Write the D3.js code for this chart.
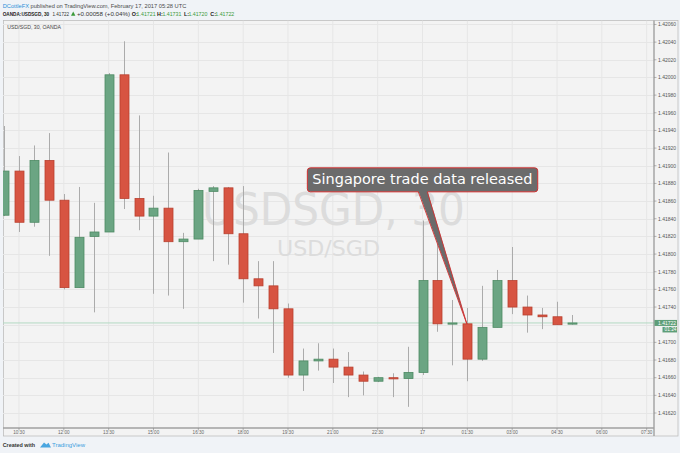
<!DOCTYPE html>
<html>
<head>
<meta charset="utf-8">
<title>USDSGD, 30</title>
<script src="https://cdnjs.cloudflare.com/ajax/libs/d3/7.8.5/d3.min.js"></script>
<style>
  body { margin: 0; background: #f0f3f7; }
  svg { display: block; font-family: "Liberation Sans", Arial, sans-serif; }
</style>
</head>
<body>
<svg width="680" height="453"></svg>
<script>
// 30 minute candles, 16 Feb 10:00 -> 17 Feb 05:00
var times = ["10:00","10:30","11:00","11:30","12:00","12:30","13:00","13:30","14:00","14:30",
             "15:00","15:30","16:00","16:30","17:00","17:30","18:00","18:30","19:00","19:30",
             "20:00","20:30","21:00","21:30","22:00","22:30","23:00","23:30","00:00","00:30",
             "01:00","01:30","02:00","02:30","03:00","03:30","04:00","04:30","05:00"];
var open  = [1.41844,1.41894,1.41836,1.41906,1.41861,1.41762,1.41820,1.41825,1.42003,1.41863,
             1.41843,1.41852,1.41814,1.41817,1.41871,1.41875,1.41823,1.41772,1.41764,1.41738,
             1.41663,1.41679,1.41681,1.41672,1.41663,1.41656,1.41660,1.41659,1.41666,1.41770,
             1.41721,1.41721,1.41681,1.41717,1.41770,1.41740,1.41731,1.41729,1.41721];
var high  = [1.41945,1.41911,1.41923,1.41937,1.41868,1.41876,1.41858,1.42005,1.42041,1.41957,
             1.41866,1.41915,1.41824,1.41874,1.41877,1.41876,1.41877,1.41792,1.41792,1.41744,
             1.41693,1.41699,1.41693,1.41689,1.41667,1.41661,1.41665,1.41695,1.41838,1.41812,
             1.41748,1.41739,1.41764,1.41782,1.41808,1.41753,1.41739,1.41746,1.41731];
var low   = [1.41843,1.41825,1.41831,1.41798,1.41760,1.41762,1.41734,1.41825,1.41851,1.41827,
             1.41755,1.41753,1.41738,1.41817,1.41792,1.41788,1.41745,1.41727,1.41688,1.41660,
             1.41645,1.41668,1.41654,1.41638,1.41640,1.41655,1.41638,1.41627,1.41663,1.41712,
             1.41674,1.41656,1.41679,1.41717,1.41732,1.41711,1.41715,1.41720,1.41720];
var close = [1.41894,1.41836,1.41906,1.41861,1.41762,1.41819,1.41825,1.42003,1.41863,1.41843,
             1.41852,1.41814,1.41817,1.41872,1.41875,1.41823,1.41772,1.41764,1.41738,1.41663,
             1.41679,1.41681,1.41672,1.41663,1.41656,1.41660,1.41659,1.41666,1.41770,1.41721,
             1.41722,1.41681,1.41717,1.41770,1.41740,1.41731,1.41729,1.41720,1.41722];

var priceTicks = ["1.41620","1.41640","1.41660","1.41680","1.41700","1.41740","1.41760","1.41780",
                  "1.41800","1.41820","1.41840","1.41860","1.41880","1.41900","1.41920","1.41940",
                  "1.41960","1.41980","1.42000","1.42020","1.42040","1.42060"];
var gridPrices = ["1.41620","1.41640","1.41660","1.41680","1.41700","1.41720","1.41740","1.41760",
                  "1.41780","1.41800","1.41820","1.41840","1.41860","1.41880","1.41900","1.41920",
                  "1.41940","1.41960","1.41980","1.42000","1.42020","1.42040","1.42060"];
var tickTimes  = ["10:30","12:00","13:30","15:00","16:30","18:00","19:30","21:00","22:30","00:00",
                  "01:30","03:00","04:30","06:00","07:30"];
var tickLabels = ["10:30","12:00","13:30","15:00","16:30","18:00","19:30","21:00","22:30","17",
                  "01:30","03:00","04:30","06:00","07:30"];

var lastPrice = 1.41722;
var countdown = "01:24";
var noteText = "Singapore trade data released";
var noteTime = "01:30";
var notePrice = 1.41721;

var svg = d3.select("svg");
var W = 680, H = 453;
var pLeft = 3, pRight = 654, pTop = 20.5, pBottom = 428;

function mins(t) {
  var p = t.split(":");
  var m = +p[0] * 60 + +p[1];
  return m < 600 ? m + 1440 : m;
}

var x = d3.scaleLinear().domain([597.9, 1904.7]).range([pLeft, pRight]);
var y = d3.scaleLinear().domain([1.416036, 1.420645]).range([427.5, pTop]);
var bodyW = 9;

// page background + header
svg.append("rect").attr("width", W).attr("height", H).attr("fill", "#f0f3f7");

var h1 = svg.append("text").attr("x", 2.7).attr("y", 7.5).attr("font-size", 5.7).attr("fill", "#4a4a4a");
h1.append("tspan").attr("fill", "#2a8fd8").text("DCottleFX");
h1.append("tspan").text(" published on TradingView.com, February 17, 2017 05:28 UTC");

var h2 = svg.append("g").attr("font-size", 5.4);
h2.append("text").attr("x", 2.7).attr("y", 16).attr("font-weight", "bold").attr("fill", "#222")
  .attr("textLength", 46.5).attr("lengthAdjust", "spacingAndGlyphs").text("OANDA:USDSGD, 30");
h2.append("text").attr("x", 52.5).attr("y", 16).attr("fill", "#333")
  .attr("textLength", 16.5).attr("lengthAdjust", "spacingAndGlyphs").text("1.41722");
h2.append("text").attr("x", 77).attr("y", 16).attr("fill", "#333")
  .attr("textLength", 53).attr("lengthAdjust", "spacingAndGlyphs").text("+0.00058 (+0.04%)");
[["O:", 131.8, 136.6, "1.41721"], ["H:", 157, 162.4, "1.41731"], ["L:", 184, 188.4, "1.41720"], ["C:", 210.3, 215.3, "1.41722"]].forEach(function (d) {
  h2.append("text").attr("x", d[1]).attr("y", 16).attr("font-weight", "bold").attr("fill", "#222").text(d[0]);
  h2.append("text").attr("x", d[2]).attr("y", 16).attr("fill", "#3a9a3a")
    .attr("textLength", 19).attr("lengthAdjust", "spacingAndGlyphs").text(d[3]);
});
svg.append("path").attr("d", "M71,15.8L73.2,11.6L75.4,15.8Z").attr("fill", "#3a9a3a");

// chart panel
svg.append("rect").attr("x", pLeft + 0.5).attr("y", pTop).attr("width", 678 - pLeft - 0.5).attr("height", 436 - pTop)
  .attr("fill", "#f3f3f3").attr("stroke", "#bdbdbd").attr("stroke-width", 0.8);

svg.append("defs").append("clipPath").attr("id", "plot")
  .append("rect").attr("x", pLeft).attr("y", pTop).attr("width", pRight - pLeft).attr("height", pBottom - pTop);

var plot = svg.append("g").attr("clip-path", "url(#plot)");

plot.selectAll(".hg").data(gridPrices).enter().append("line")
  .attr("x1", pLeft).attr("x2", pRight)
  .attr("y1", function (d) { return Math.round(y(+d)) + 0.5; })
  .attr("y2", function (d) { return Math.round(y(+d)) + 0.5; })
  .attr("stroke", "#e6e6e6").attr("stroke-width", 1);

plot.selectAll(".vg").data(tickTimes).enter().append("line")
  .attr("y1", pTop).attr("y2", pBottom)
  .attr("x1", function (d) { return x(mins(d)); })
  .attr("x2", function (d) { return x(mins(d)); })
  .attr("stroke", "#e6e6e6").attr("stroke-width", 1);

// watermark
plot.append("text").attr("x", 333.5).attr("y", 225).attr("text-anchor", "middle")
  .attr("font-family", "DejaVu Sans").attr("font-size", 44).attr("fill", "#dcdcdc")
  .attr("textLength", 263).attr("lengthAdjust", "spacingAndGlyphs").text("USDSGD, 30");
plot.append("text").attr("x", 328.5).attr("y", 256).attr("text-anchor", "middle")
  .attr("font-family", "DejaVu Sans").attr("font-size", 20.5).attr("fill", "#dcdcdc")
  .attr("textLength", 103).attr("lengthAdjust", "spacingAndGlyphs").text("USD/SGD");

// price line
plot.append("line").attr("x1", pLeft).attr("x2", pRight)
  .attr("y1", y(lastPrice)).attr("y2", y(lastPrice))
  .attr("stroke", "#b3d9c3").attr("stroke-width", 1);

// candles
var candles = times.map(function (t, i) {
  return { t: mins(t), o: open[i], h: high[i], l: low[i], c: close[i] };
});
var cg = plot.selectAll(".candle").data(candles).enter().append("g");
cg.append("line")
  .attr("x1", function (d) { return Math.round(x(d.t)) + 0.5; })
  .attr("x2", function (d) { return Math.round(x(d.t)) + 0.5; })
  .attr("y1", function (d) { return y(d.h); })
  .attr("y2", function (d) { return y(d.l); })
  .attr("stroke", "#ababab").attr("stroke-width", 1);
cg.append("rect")
  .attr("x", function (d) { return Math.round(x(d.t)) + 0.5 - bodyW / 2; })
  .attr("width", bodyW)
  .attr("y", function (d) { return y(Math.max(d.o, d.c)); })
  .attr("height", function (d) { return Math.max(1.2, Math.abs(y(d.o) - y(d.c))); })
  .attr("fill", function (d) { return d.c >= d.o ? "#6ba583" : "#d75442"; })
  .attr("stroke", function (d) { return d.c >= d.o ? "#4d8a63" : "#b9402f"; })
  .attr("stroke-width", 0.8);

// axes frame
svg.append("line").attr("x1", pRight).attr("x2", pRight).attr("y1", pTop).attr("y2", 436)
  .attr("stroke", "#a0a0a0").attr("stroke-width", 1.4);
svg.append("line").attr("x1", pLeft).attr("x2", pRight).attr("y1", pBottom).attr("y2", pBottom)
  .attr("stroke", "#a0a0a0").attr("stroke-width", 1.4);

// price axis
var ya = svg.append("g");
ya.selectAll("line").data(priceTicks).enter().append("line")
  .attr("x1", pRight).attr("x2", pRight + 2.5)
  .attr("y1", function (d) { return y(+d); }).attr("y2", function (d) { return y(+d); })
  .attr("stroke", "#888").attr("stroke-width", 0.6);
ya.selectAll("text").data(priceTicks).enter().append("text")
  .attr("x", 658).attr("y", function (d) { return y(+d) + 1.8; })
  .attr("font-size", 5).attr("fill", "#555").text(function (d) { return d; });

// last price label + countdown
svg.append("rect").attr("x", 654.5).attr("y", y(lastPrice) - 3).attr("width", 22.5).attr("height", 6)
  .attr("fill", "#5e9e78");
svg.append("text").attr("x", 658).attr("y", y(lastPrice) + 1.8).attr("font-size", 5).attr("fill", "#fff")
  .text(lastPrice.toFixed(5));
svg.append("rect").attr("x", 662.5).attr("y", y(lastPrice) + 4).attr("width", 14.5).attr("height", 5.5)
  .attr("fill", "#5e9e78");
svg.append("text").attr("x", 664.5).attr("y", y(lastPrice) + 8.5).attr("font-size", 4.8).attr("fill", "#fff")
  .text(countdown);

// time axis
var xa = svg.append("g");
xa.selectAll("line").data(tickTimes).enter().append("line")
  .attr("x1", function (d) { return x(mins(d)); }).attr("x2", function (d) { return x(mins(d)); })
  .attr("y1", pBottom).attr("y2", pBottom + 2.5)
  .attr("stroke", "#888").attr("stroke-width", 0.6);
xa.selectAll("text").data(tickLabels).enter().append("text")
  .attr("x", function (d, i) { return x(mins(tickTimes[i])); })
  .attr("y", 434.3).attr("text-anchor", "middle")
  .attr("font-size", 4.6).attr("fill", "#666").text(function (d) { return d; });

// symbol legend in plot
svg.append("text").attr("x", 7.3).attr("y", 28.8).attr("font-size", 5.2).attr("fill", "#444")
  .text("USD/SGD, 30, OANDA");

// annotation
var ax = x(mins(noteTime)), ay = y(notePrice);
var bx = ax - 160, by = ay - 156, bw = 230.4, bh = 24;
var note = svg.append("g");
note.append("rect").attr("x", bx).attr("y", by).attr("width", bw).attr("height", bh).attr("rx", 3)
  .attr("fill", "#6b6b6b").attr("stroke", "#d32f2f").attr("stroke-width", 1);
note.append("path")
  .attr("d", "M" + (ax - 49) + "," + (by + bh - 1) + "L" + (ax - 0.5) + "," + ay + "L" + (ax - 40) + "," + (by + bh - 1) + "Z")
  .attr("fill", "#6b6b6b");
note.append("path")
  .attr("d", "M" + (ax - 49) + "," + (by + bh) + "L" + (ax - 0.5) + "," + ay + "L" + (ax - 40) + "," + (by + bh))
  .attr("fill", "none").attr("stroke", "#d32f2f").attr("stroke-width", 0.9);
note.append("text").attr("x", bx + 5).attr("y", by + 16.5)
  .attr("font-family", "DejaVu Sans").attr("font-size", 14).attr("fill", "#fff")
  .attr("textLength", 220).attr("lengthAdjust", "spacingAndGlyphs").text(noteText);

// footer
svg.append("text").attr("x", 2.7).attr("y", 447).attr("font-size", 5.4).attr("font-weight", "bold")
  .attr("fill", "#333").text("Created with");
svg.append("path")
  .attr("d", "M40,447.5 L44,442.5 L46.5,444.5 L48.5,442.8 L51,447.5 Z")
  .attr("fill", "#4aa6e0");
svg.append("text").attr("x", 52).attr("y", 447).attr("font-size", 6).attr("fill", "#3a9ee0")
  .text("TradingView");
</script>
</body>
</html>
